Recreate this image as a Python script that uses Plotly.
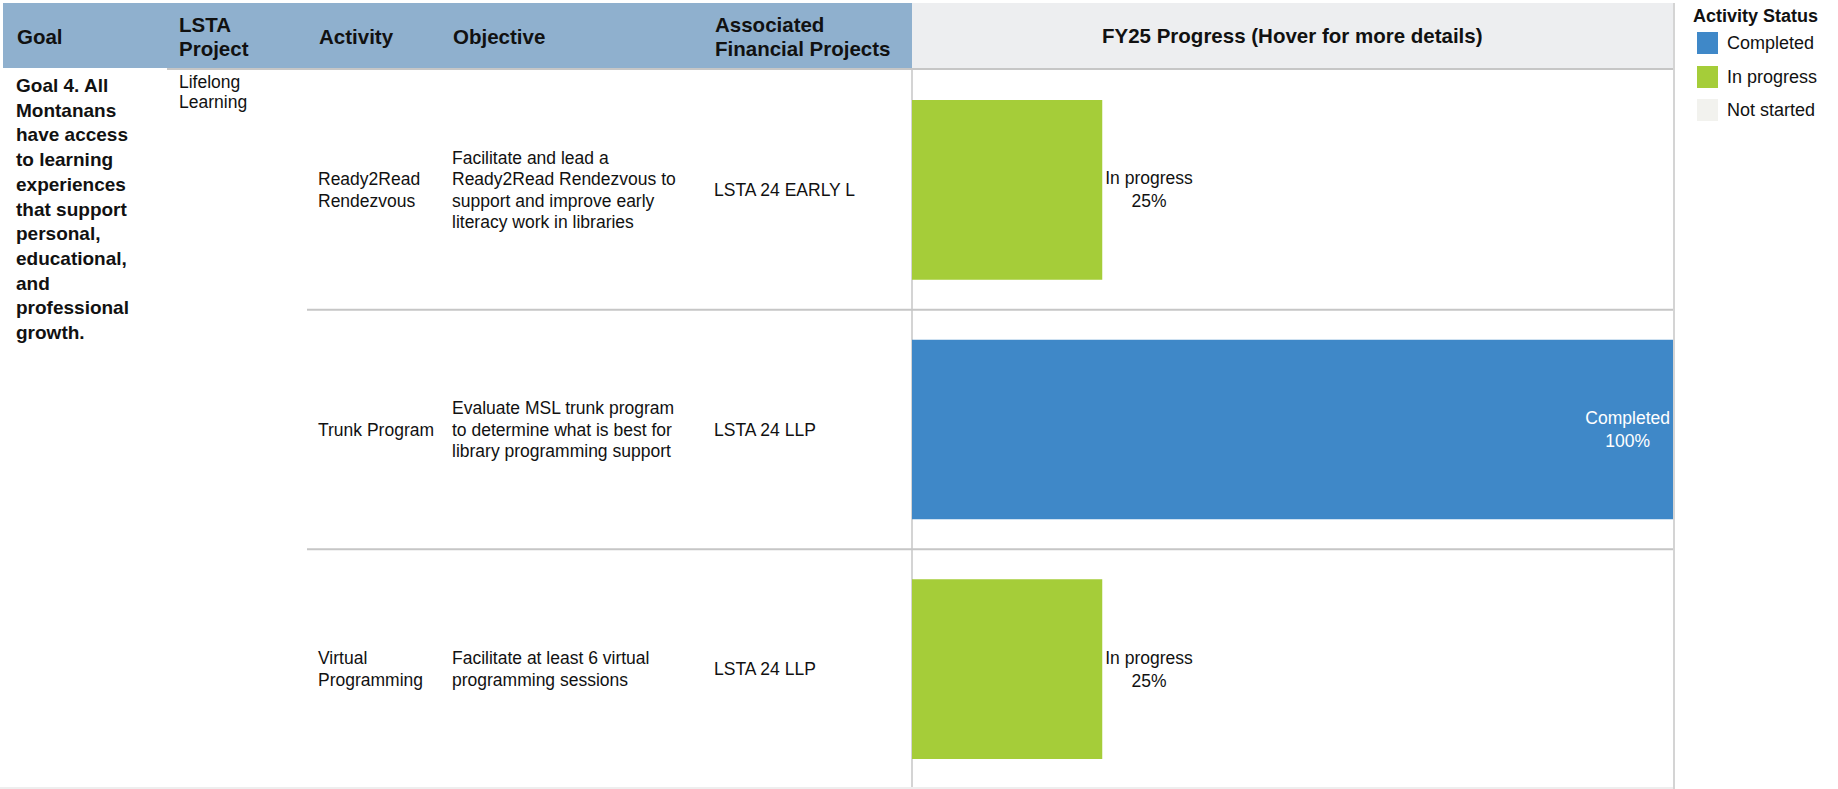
import plotly.graph_objects as go

W, H = 1838, 789

# ---------------- data ----------------
goal_text = "Goal 4. All<br>Montanans<br>have access<br>to learning<br>experiences<br>that support<br>personal,<br>educational,<br>and<br>professional<br>growth."
lsta_project = "Lifelong<br>Learning"
activities = ["Ready2Read Rendezvous", "Trunk Program", "Virtual Programming"]
activity_labels = ["Ready2Read<br>Rendezvous", "Trunk Program", "Virtual<br>Programming"]
objectives = [
    "Facilitate and lead a<br>Ready2Read Rendezvous to<br>support and improve early<br>literacy work in libraries",
    "Evaluate MSL trunk program<br>to determine what is best for<br>library programming support",
    "Facilitate at least 6 virtual<br>programming sessions",
]
financial_projects = ["LSTA 24 EARLY L", "LSTA 24 LLP", "LSTA 24 LLP"]
progress = [25, 100, 25]
status = ["In progress", "Completed", "In progress"]

headers = ["Goal", "LSTA<br>Project", "Activity", "Objective", "Associated<br>Financial Projects"]
progress_title = "FY25 Progress (Hover for more details)"
legend_title = "Activity Status"
status_names = ["Completed", "In progress", "Not started"]
status_colors = {"Completed": "#3F88C8", "In progress": "#A5CD39", "Not started": "#F2F2EE"}

# ---------------- helpers ----------------
FONT = "Liberation Sans, Arial, sans-serif"
INK = "#111111"
def px(x):
    return x / W
def py(y):
    return 1 - y / H

X0, X1 = 912, 1673   # progress column
HEAD_B = 68          # header bottom

fig = go.Figure()

bar_colors = [status_colors[s] for s in status]
bar_text = [f"{s}<br>{p}%" for s, p in zip(status, progress)]
text_pos = ["inside" if p >= 60 else "outside" for p in progress]

fig.add_trace(go.Bar(
    y=activities, x=progress, orientation="h",
    marker=dict(color=bar_colors, line=dict(width=0)),
    text=bar_text, textposition=text_pos,
    insidetextanchor="end",
    insidetextfont=dict(color="white", size=17.5, family=FONT),
    outsidetextfont=dict(color=INK, size=17.5, family=FONT),
    cliponaxis=False,
    customdata=[[o.replace("<br>", " "), f] for o, f in zip(objectives, financial_projects)],
    hovertemplate="<b>%{y}</b><br>Status: %{text}<br>Objective: %{customdata[0]}<br>Financial project: %{customdata[1]}<extra></extra>",
    showlegend=False,
))

shapes = []
# header backgrounds
shapes.append(dict(type="rect", xref="paper", yref="paper", x0=px(3), x1=px(X0), y0=py(3), y1=py(HEAD_B),
                   fillcolor="#8FB0CE", line=dict(width=0), layer="below"))
shapes.append(dict(type="rect", xref="paper", yref="paper", x0=px(X0), x1=px(X1), y0=py(3), y1=py(HEAD_B),
                   fillcolor="#EDEEF0", line=dict(width=0), layer="below"))
# header bottom border
shapes.append(dict(type="line", xref="paper", yref="paper", x0=px(167), x1=px(X1), y0=py(HEAD_B + 1), y1=py(HEAD_B + 1),
                   line=dict(color="#C6C6C6", width=2)))
# row separators
for yb in [0.5, 1.5]:
    shapes.append(dict(type="line", xref="paper", yref="y", x0=px(307), x1=px(X1), y0=yb, y1=yb,
                       line=dict(color="#C6C6C6", width=2), layer="below"))
# vertical lines
shapes.append(dict(type="line", xref="paper", yref="paper", x0=px(X0), x1=px(X0), y0=py(HEAD_B), y1=0,
                   line=dict(color="#C6C6C6", width=1.5), layer="below"))
shapes.append(dict(type="line", xref="paper", yref="paper", x0=px(X1 + 1), x1=px(X1 + 1), y0=py(3), y1=0,
                   line=dict(color="#C6C6C6", width=1.5), layer="below"))
# bottom border
shapes.append(dict(type="line", xref="paper", yref="paper", x0=0, x1=px(X1), y0=py(788), y1=py(788),
                   line=dict(color="#EEEEEE", width=2), layer="below"))

annotations = []

def multiline(text, x, y, xref, yref, size, spacing, bold=False, color=INK, xanchor="left"):
    lines = text.split("<br>")
    n = len(lines)
    for i, ln in enumerate(lines):
        shift = ((n - 1) / 2 - i) * spacing
        annotations.append(dict(xref=xref, yref=yref, x=x, y=y, xanchor=xanchor, yanchor="middle",
                                yshift=shift, text=f"<b>{ln}</b>" if bold else ln, showarrow=False,
                                font=dict(size=size, color=color, family=FONT)))

# headers
head_x = [15, 177, 317, 451, 713]
for hx, ht in zip(head_x, headers):
    multiline(ht, px(hx), py(37), "paper", "paper", 20.5, 24, bold=True)
annotations.append(dict(xref="paper", yref="paper", x=px((X0 + X1) / 2), y=py(36), xanchor="center", yanchor="middle",
                        text=f"<b>{progress_title}</b>", showarrow=False,
                        font=dict(size=20.5, color=INK, family=FONT)))
# goal & project
annotations.append(dict(xref="paper", yref="paper", x=px(14), y=py(73), xanchor="left", yanchor="top",
                        text=f"<b>{goal_text}</b>", showarrow=False, align="left",
                        font=dict(size=19, color=INK, family=FONT)))
multiline(lsta_project, px(177), py(92), "paper", "paper", 17.5, 20.5)
# row cells
for act, lab, obj, fin in zip(activities, activity_labels, objectives, financial_projects):
    for cx, txt in [(316, lab), (450, obj), (712, fin)]:
        multiline(txt, px(cx), act, "paper", "y", 17.5, 21.5)
# legend
annotations.append(dict(xref="paper", yref="paper", x=px(1691), y=py(16), xanchor="left", yanchor="middle",
                        text=f"<b>{legend_title}</b>", showarrow=False,
                        font=dict(size=18, color=INK, family=FONT)))
leg_y = [43, 77, 110]
for ly, nm in zip(leg_y, status_names):
    shapes.append(dict(type="rect", xref="paper", yref="paper", x0=px(1697), x1=px(1718),
                       y0=py(ly - 11), y1=py(ly + 11), fillcolor=status_colors[nm], line=dict(width=0)))
    annotations.append(dict(xref="paper", yref="paper", x=px(1725), y=py(ly), xanchor="left", yanchor="middle",
                            text=nm, showarrow=False,
                            font=dict(size=18, color=INK, family=FONT)))

fig.update_layout(
    width=W, height=H,
    margin=dict(l=0, r=0, t=0, b=0),
    paper_bgcolor="white", plot_bgcolor="rgba(0,0,0,0)",
    bargap=0.25,
    showlegend=False,
    xaxis=dict(domain=[px(X0), px(X1)], range=[0, 100], showgrid=False, zeroline=False,
               showticklabels=False, showline=False, fixedrange=True),
    yaxis=dict(domain=[0, py(HEAD_B + 2)], range=[2.5, -0.5], showgrid=False, zeroline=False,
               showticklabels=False, showline=False, fixedrange=True,
               categoryorder="array", categoryarray=activities),
    shapes=shapes,
    annotations=annotations,
    font=dict(family=FONT),
)

fig.write_html("out.html", config={"displayModeBar": False},
               post_script="document.body.style.margin='0';document.body.style.overflow='hidden';")
